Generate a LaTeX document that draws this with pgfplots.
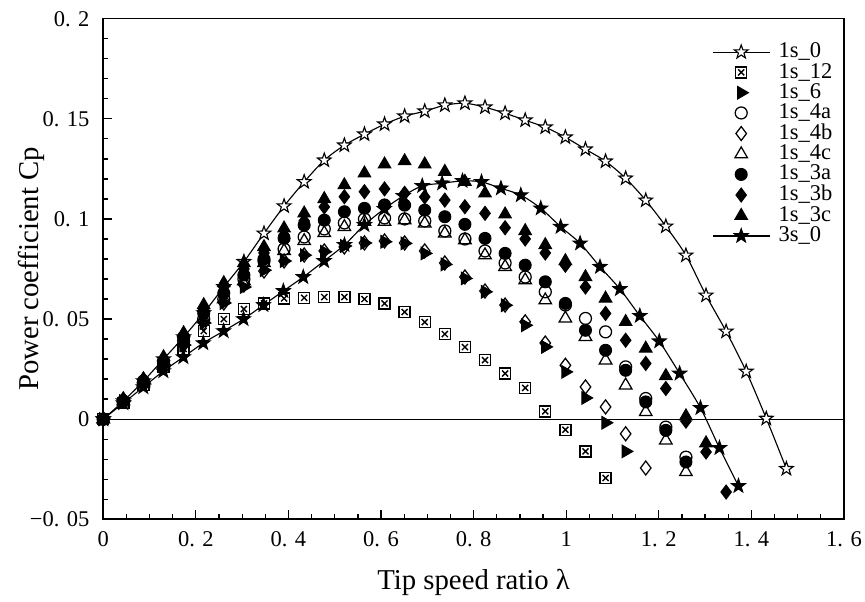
\documentclass[border=0pt]{standalone}
\usepackage{fontspec}
\setmainfont{Liberation Serif}
\usepackage{pgfplots}
\usepackage{pgfplotstable}
\pgfplotsset{compat=1.18}

% five-pointed star, filled with the current fill colour
\pgfdeclareplotmark{pstar}{%
  \pgfpathmoveto{\pgfpointpolar{90}{1.25\pgfplotmarksize}}%
  \pgfpathlineto{\pgfpointpolar{126}{0.5\pgfplotmarksize}}%
  \pgfpathlineto{\pgfpointpolar{162}{1.25\pgfplotmarksize}}%
  \pgfpathlineto{\pgfpointpolar{198}{0.5\pgfplotmarksize}}%
  \pgfpathlineto{\pgfpointpolar{234}{1.25\pgfplotmarksize}}%
  \pgfpathlineto{\pgfpointpolar{270}{0.5\pgfplotmarksize}}%
  \pgfpathlineto{\pgfpointpolar{306}{1.25\pgfplotmarksize}}%
  \pgfpathlineto{\pgfpointpolar{342}{0.5\pgfplotmarksize}}%
  \pgfpathlineto{\pgfpointpolar{18}{1.25\pgfplotmarksize}}%
  \pgfpathlineto{\pgfpointpolar{54}{0.5\pgfplotmarksize}}%
  \pgfpathclose
  \pgfusepathqfillstroke
}
% square with a cross inside
\pgfdeclareplotmark{boxx}{%
  \pgfpathrectangle{\pgfpoint{-\pgfplotmarksize}{-\pgfplotmarksize}}{\pgfpoint{2\pgfplotmarksize}{2\pgfplotmarksize}}%
  \pgfusepathqfillstroke
  \pgfpathmoveto{\pgfpoint{-0.55\pgfplotmarksize}{-0.55\pgfplotmarksize}}%
  \pgfpathlineto{\pgfpoint{0.55\pgfplotmarksize}{0.55\pgfplotmarksize}}%
  \pgfpathmoveto{\pgfpoint{-0.55\pgfplotmarksize}{0.55\pgfplotmarksize}}%
  \pgfpathlineto{\pgfpoint{0.55\pgfplotmarksize}{-0.55\pgfplotmarksize}}%
  \pgfusepathqstroke
}

\pgfplotsset{
  my legend/.style={legend image code/.code={%
    \draw[mark repeat=2,mark phase=2,##1] plot coordinates {(0cm,0cm) (0.4cm,0cm) (0.8cm,0cm)};}},
}

% lam = tip speed ratio, columns = Cp of each single-stage rotor
\pgfplotstableread{
lam     s0      s12     s6      s4a     s4b     s4c     s3a     s3b     s3c
0       0       0       0       0       0       0       0       0       0
0.0434  0.009   0.008   0.009   0.009   0.009   0.009   0.009   0.010   0.010
0.0868  0.019   0.017   0.018   0.018   0.018   0.018   0.019   0.020   0.020
0.1302  0.030   0.026   0.027   0.028   0.027   0.028   0.029   0.030   0.031
0.1736  0.041   0.035   0.037   0.039   0.037   0.039   0.041   0.042   0.043
0.2170  0.053   0.044   0.048   0.050   0.048   0.050   0.053   0.055   0.057
0.2604  0.066   0.050   0.058   0.060   0.058   0.060   0.063   0.066   0.068
0.3038  0.0786  0.055   0.066   0.070   0.067   0.069   0.072   0.075   0.078
0.3472  0.0928  0.0578  0.0744  0.079   0.074   0.078   0.080   0.083   0.086
0.3906  0.1064  0.0603  0.0790  0.085   0.079   0.084   0.0903  0.092   0.0953
0.4340  0.1185  0.0606  0.0819  0.091   0.082   0.089   0.0969  0.099   0.1028
0.4774  0.1293  0.061   0.0836  0.095   0.084   0.093   0.0994  0.106   0.110
0.5208  0.1368  0.061   0.0865  0.098   0.086   0.096   0.1036  0.1111  0.1169
0.5642  0.1423  0.060   0.0880  0.100   0.088   0.0986  0.1053  0.1136  0.1228
0.6076  0.1473  0.0578  0.0886  0.1005  0.089   0.0986  0.1070  0.1150  0.1273
0.6510  0.1513  0.0535  0.0878  0.100   0.088   0.0994  0.1069  0.1128  0.1289
0.6944  0.1538  0.0485  0.0828  0.099   0.084   0.0978  0.1044  0.1110  0.1273
0.7378  0.1568  0.0425  0.0773  0.094   0.078   0.0928  0.1011  0.1094  0.1236
0.7812  0.1578  0.0360  0.0703  0.090   0.071   0.0894  0.0973  0.1061  0.1186
0.8246  0.1558  0.0295  0.0636  0.084   0.064   0.0819  0.0903  0.1028  0.1128
0.8680  0.1528  0.0228  0.0569  0.078   0.057   0.0761  0.0828  0.0956  0.1023
0.9114  0.1493  0.0156  0.0469  0.071   0.0486  0.0694  0.0769  0.0900  0.0940
0.9548  0.1458  0.0039  0.0361  0.0636  0.038   0.0594  0.0686  0.0830  0.0870
0.9982  0.1408  -0.0053 0.0236  0.057   0.0269  0.0503  0.0578  0.0769  0.0790
1.0416  0.1348  -0.0161 0.0106  0.0503  0.0161  0.0411  0.0444  0.0660  0.0710
1.0850  0.1288  -0.0294 -0.0018 0.0436  0.0061  0.0294  0.0344  0.0528  0.0603
1.1284  0.1203  nan     -0.0161 0.0261  -0.0073 0.0169  0.0244  0.0394  0.0486
1.1718  0.1093  nan     nan     0.0103  -0.0244 0.0036  0.0086  0.0278  0.0353
1.2152  0.0963  nan     nan     -0.004  nan     -0.0106 -0.0056 0.0153  0.0216
1.2586  0.0818  nan     nan     -0.019  nan     -0.0264 -0.0214 -0.0010 0.0015
1.3020  0.0618  nan     nan     nan     nan     nan     nan     -0.0164 -0.012
1.3454  0.0438  nan     nan     nan     nan     nan     nan     -0.0364 nan
1.3888  0.0238  nan     nan     nan     nan     nan     nan     nan     nan
1.4322  0.0003  nan     nan     nan     nan     nan     nan     nan     nan
1.4756  -0.0248 nan     nan     nan     nan     nan     nan     nan     nan
}\single

% three-stage rotor
\pgfplotstableread{
lam     cp
0       0
0.0433  0.008
0.0866  0.016
0.1299  0.024
0.173   0.031
0.216   0.038
0.260   0.044
0.303   0.050
0.346   0.057
0.389   0.064
0.432   0.071
0.477   0.079
0.521   0.087
0.564   0.097
0.607   0.105
0.648   0.1115
0.689   0.1165
0.732   0.1178
0.776   0.1190
0.817   0.1185
0.859   0.1153
0.902   0.1119
0.945   0.1053
0.988   0.0961
1.030   0.0878
1.073   0.0761
1.116   0.0650
1.159   0.0516
1.201   0.0389
1.245   0.0228
1.290   0.0056
1.331   -0.0144
1.372   -0.0334
}\three

\begin{document}
\begin{tikzpicture}
\begin{axis}[
  scale only axis,
  width=296.3pt, height=200.2pt,
  xmin=0, xmax=1.6, ymin=-0.05, ymax=0.2,
  xtick={0,0.2,0.4,0.6,0.8,1,1.2,1.4,1.6},
  xticklabels={0,0. 2,0. 4,0. 6,0. 8,1,1. 2,1. 4,1. 6},
  ytick={-0.05,0,0.05,0.1,0.15,0.2},
  yticklabels={−0. 05,0,0. 05,0. 1,0. 15,0. 2},
  minor x tick num=3, minor y tick num=4,
  tick pos=left, tick align=inside,
  major tick length=3.6pt, minor tick length=2pt,
  every tick/.style={black, line width=0.5pt},
  axis line style={line width=0.6pt},
  ticklabel style={font=\fontsize{9}{10}\selectfont},
  xticklabel style={yshift=-1.5pt},
  yticklabel style={xshift=-2pt},
  xlabel={Tip speed ratio λ},
  ylabel={Power coefficient Cp},
  label style={font=\fontsize{11.5}{13}\selectfont},
  xlabel style={at={(axis description cs:0.5,-0.127)}, anchor=center},
  ylabel style={at={(axis description cs:-0.097,0.5)}, anchor=center},
  legend style={draw=none, fill=none, inner sep=0pt, at={(axis description cs:0.8214,0.958)},
    anchor=north west, font=\fontsize{9}{9}\selectfont, row sep=-1.35pt, column sep=2.4pt,
    nodes={inner sep=1pt}},
  legend cell align=left,
  every axis plot post/.append style={my legend},
]
\addplot[black, line width=0.5pt, forget plot] coordinates {(0,0) (1.6,0)};

\addplot[black, line width=0.45pt, smooth, mark=pstar, mark size=2.3pt,
  mark options={fill=white, line width=0.45pt, solid}] table[x=lam, y=s0] {\single};
\addlegendentry{1s\_0}
\addplot[only marks, black, mark=boxx, mark size=2.2pt,
  mark options={fill=white, line width=0.55pt}] table[x=lam, y=s12] {\single};
\addlegendentry{1s\_12}
\addplot[only marks, black, mark=triangle*, mark size=2.9pt,
  mark options={fill=black, rotate=-90}] table[x=lam, y=s6] {\single};
\addlegendentry{1s\_6}
\addplot[only marks, black, mark=o, mark size=2.4pt,
  mark options={fill=white, line width=0.5pt}] table[x=lam, y=s4a] {\single};
\addlegendentry{1s\_4a}
\addplot[only marks, black, mark=diamond, mark size=2.8pt,
  mark options={fill=white, line width=0.5pt}] table[x=lam, y=s4b] {\single};
\addlegendentry{1s\_4b}
\addplot[only marks, black, mark=triangle, mark size=2.9pt,
  mark options={fill=white, line width=0.5pt}] table[x=lam, y=s4c] {\single};
\addlegendentry{1s\_4c}
\addplot[only marks, black, mark=*, mark size=2.4pt,
  mark options={fill=black}] table[x=lam, y=s3a] {\single};
\addlegendentry{1s\_3a}
\addplot[only marks, black, mark=diamond*, mark size=2.8pt,
  mark options={fill=black}] table[x=lam, y=s3b] {\single};
\addlegendentry{1s\_3b}
\addplot[only marks, black, mark=triangle*, mark size=2.9pt,
  mark options={fill=black}] table[x=lam, y=s3c] {\single};
\addlegendentry{1s\_3c}
\addplot[black, line width=0.45pt, smooth, mark=pstar, mark size=2.3pt,
  mark options={fill=black, solid}] table[x=lam, y=cp] {\three};
\addlegendentry{3s\_0}
\end{axis}
\pgfresetboundingbox
\path ([xshift=-41.3pt,yshift=-32.8pt]current axis.south west) rectangle ([xshift=8.4pt,yshift=7.5pt]current axis.north east);
\end{tikzpicture}
\end{document}
